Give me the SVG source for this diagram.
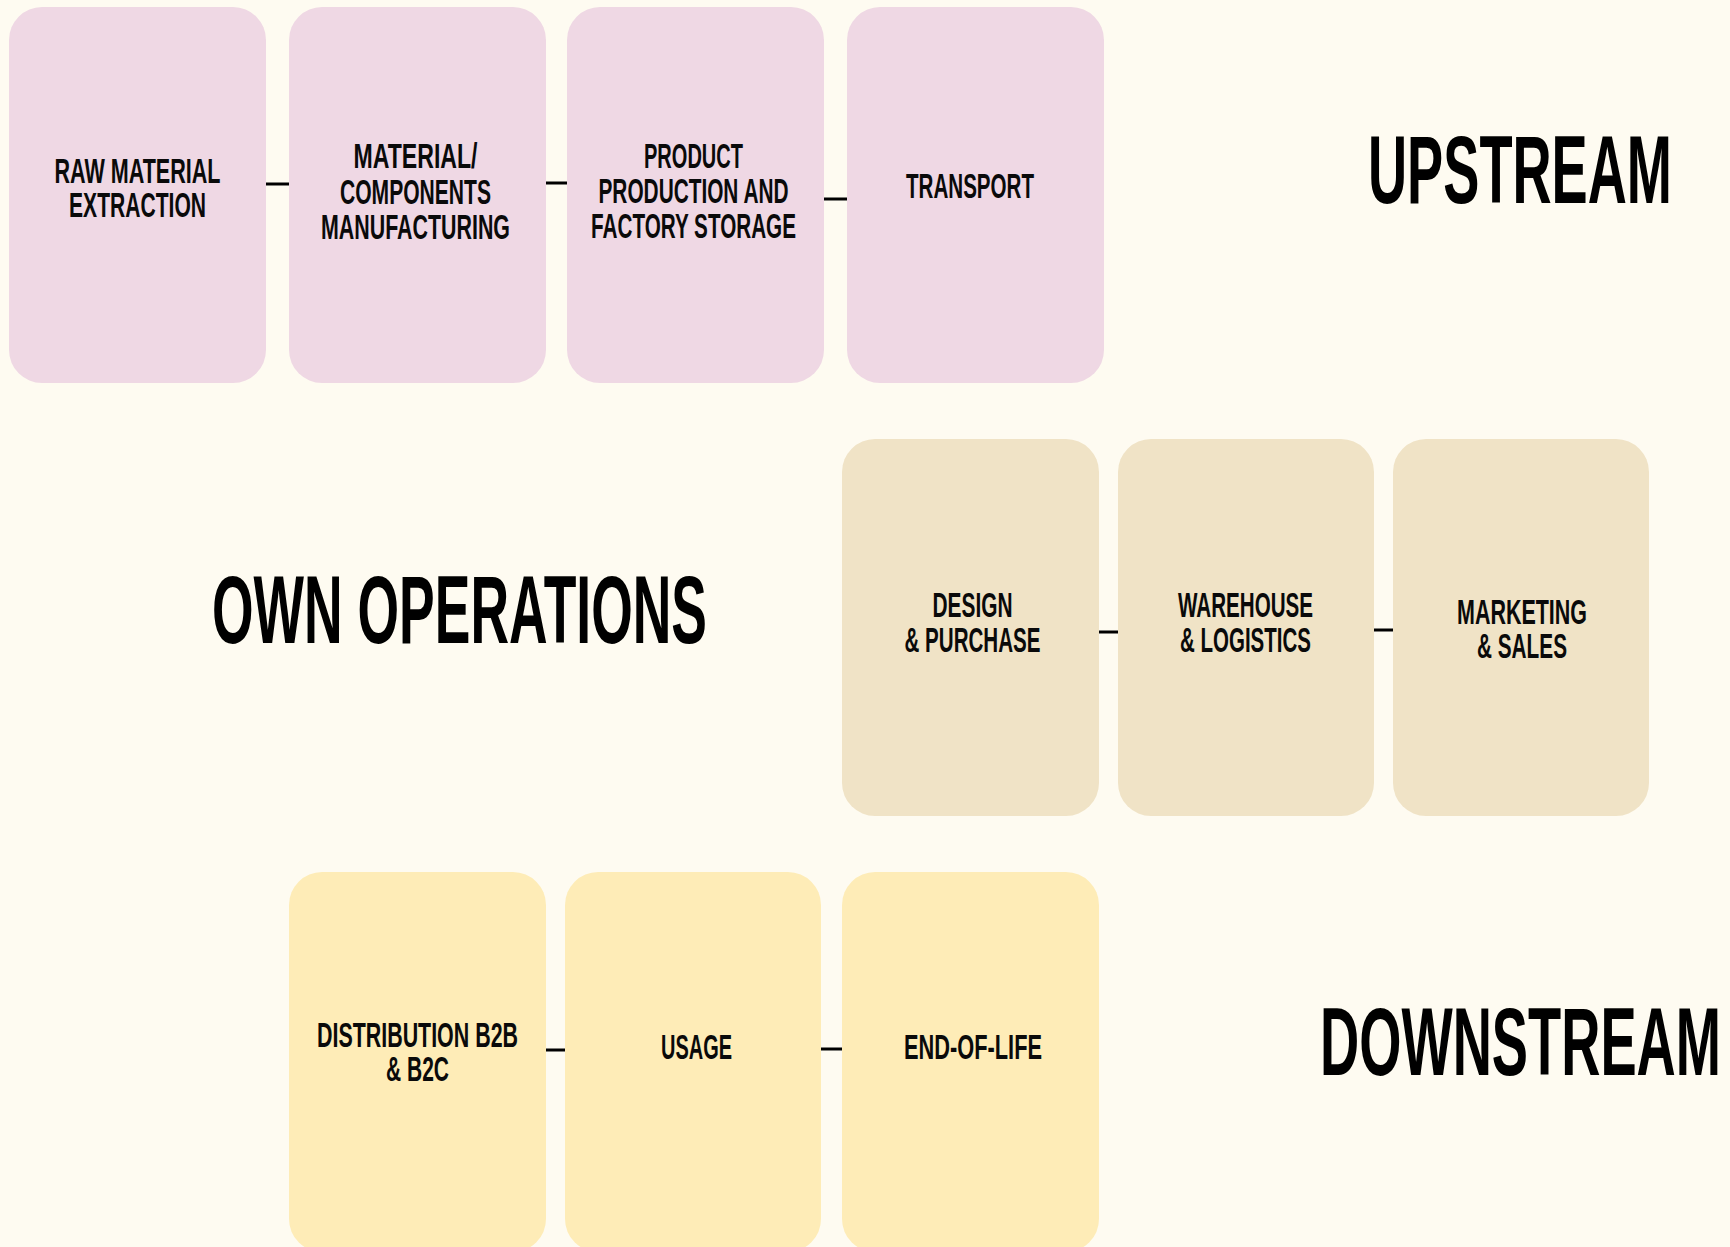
<svg xmlns="http://www.w3.org/2000/svg" width="1730" height="1247" viewBox="0 0 1730 1247">
<style>
.bg{fill:#fefbf1}
.up{fill:#efd8e4}
.own{fill:#f0e3c6}
.down{fill:#feecb7}
.t{font-family:"Liberation Sans",Arial,sans-serif;font-weight:bold;font-size:35px;fill:#0a0a0a;text-anchor:middle}
.h{font-family:"Liberation Sans",Arial,sans-serif;font-weight:bold;font-size:97px;fill:#000;text-anchor:start}
.c{stroke:#000;stroke-width:3;fill:none}
</style>
<rect class="bg" x="0" y="0" width="1730" height="1247"/>

<g id="connectors">
<line class="c" x1="266" y1="184" x2="289" y2="184"/>
<line class="c" x1="546" y1="183" x2="567" y2="183"/>
<line class="c" x1="824" y1="199" x2="847" y2="199"/>
<line class="c" x1="1099" y1="632" x2="1118" y2="632"/>
<line class="c" x1="1374" y1="630" x2="1393" y2="630"/>
<line class="c" x1="546" y1="1050" x2="565" y2="1050"/>
<line class="c" x1="821" y1="1049" x2="842" y2="1049"/>
</g>

<g id="raw-material-extraction">
<rect class="up" x="9" y="7" width="257" height="376" rx="33"/>
<text class="t" transform="translate(137.5,0) scale(0.6,1)"><tspan x="0" y="183" textLength="276.7" lengthAdjust="spacingAndGlyphs">RAW MATERIAL</tspan><tspan x="0" y="217" textLength="228.3" lengthAdjust="spacingAndGlyphs">EXTRACTION</tspan></text>
</g>
<g id="components-manufacturing">
<rect class="up" x="289" y="7" width="257" height="376" rx="33"/>
<text class="t" transform="translate(415.5,0) scale(0.6,1)"><tspan x="0" y="168" textLength="206.7" lengthAdjust="spacingAndGlyphs">MATERIAL/</tspan><tspan x="0" y="204" textLength="251.7" lengthAdjust="spacingAndGlyphs">COMPONENTS</tspan><tspan x="0" y="239" textLength="315" lengthAdjust="spacingAndGlyphs">MANUFACTURING</tspan></text>
</g>
<g id="product-production">
<rect class="up" x="567" y="7" width="257" height="376" rx="33"/>
<text class="t" transform="translate(693.5,0) scale(0.6,1)"><tspan x="0" y="168" textLength="165" lengthAdjust="spacingAndGlyphs">PRODUCT</tspan><tspan x="0" y="203" textLength="316.7" lengthAdjust="spacingAndGlyphs">PRODUCTION AND</tspan><tspan x="0" y="238" textLength="341.7" lengthAdjust="spacingAndGlyphs">FACTORY STORAGE</tspan></text>
</g>
<g id="transport">
<rect class="up" x="847" y="7" width="257" height="376" rx="33"/>
<text class="t" transform="translate(970,0) scale(0.6,1)"><tspan x="0" y="198" textLength="213.3" lengthAdjust="spacingAndGlyphs">TRANSPORT</tspan></text>
</g>
<g id="upstream-label">
<text class="h" transform="translate(1368,0) scale(0.5585,1)" x="0" y="203" textLength="544.3" lengthAdjust="spacingAndGlyphs">UPSTREAM</text>
</g>

<g id="own-operations-label">
<text class="h" transform="translate(212,0) scale(0.5467,1)" x="0" y="643" textLength="905.4" lengthAdjust="spacingAndGlyphs">OWN OPERATIONS</text>
</g>
<g id="design-purchase">
<rect class="own" x="842" y="439" width="257" height="377" rx="33"/>
<text class="t" transform="translate(972.5,0) scale(0.6,1)"><tspan x="0" y="617" textLength="133.3" lengthAdjust="spacingAndGlyphs">DESIGN</tspan><tspan x="0" y="652" textLength="226.7" lengthAdjust="spacingAndGlyphs">&amp; PURCHASE</tspan></text>
</g>
<g id="warehouse-logistics">
<rect class="own" x="1118" y="439" width="256" height="377" rx="33"/>
<text class="t" transform="translate(1245.5,0) scale(0.6,1)"><tspan x="0" y="617" textLength="225" lengthAdjust="spacingAndGlyphs">WAREHOUSE</tspan><tspan x="0" y="652" textLength="218.3" lengthAdjust="spacingAndGlyphs">&amp; LOGISTICS</tspan></text>
</g>
<g id="marketing-sales">
<rect class="own" x="1393" y="439" width="256" height="377" rx="33"/>
<text class="t" transform="translate(1522,0) scale(0.6,1)"><tspan x="0" y="624" textLength="216.7" lengthAdjust="spacingAndGlyphs">MARKETING</tspan><tspan x="0" y="658" textLength="150" lengthAdjust="spacingAndGlyphs">&amp; SALES</tspan></text>
</g>

<g id="distribution">
<rect class="down" x="289" y="872" width="257" height="380" rx="33"/>
<text class="t" transform="translate(417.5,0) scale(0.6,1)"><tspan x="0" y="1047" textLength="335" lengthAdjust="spacingAndGlyphs">DISTRIBUTION B2B</tspan><tspan x="0" y="1081" textLength="105" lengthAdjust="spacingAndGlyphs">&amp; B2C</tspan></text>
</g>
<g id="usage">
<rect class="down" x="565" y="872" width="256" height="380" rx="33"/>
<text class="t" transform="translate(696.5,0) scale(0.6,1)"><tspan x="0" y="1059" textLength="118.3" lengthAdjust="spacingAndGlyphs">USAGE</tspan></text>
</g>
<g id="end-of-life">
<rect class="down" x="842" y="872" width="257" height="380" rx="33"/>
<text class="t" transform="translate(973,0) scale(0.6,1)"><tspan x="0" y="1059" textLength="230" lengthAdjust="spacingAndGlyphs">END-OF-LIFE</tspan></text>
</g>
<g id="downstream-label">
<text class="h" transform="translate(1320,0) scale(0.5596,1)" x="0" y="1075" textLength="716.6" lengthAdjust="spacingAndGlyphs">DOWNSTREAM</text>
</g>
</svg>
